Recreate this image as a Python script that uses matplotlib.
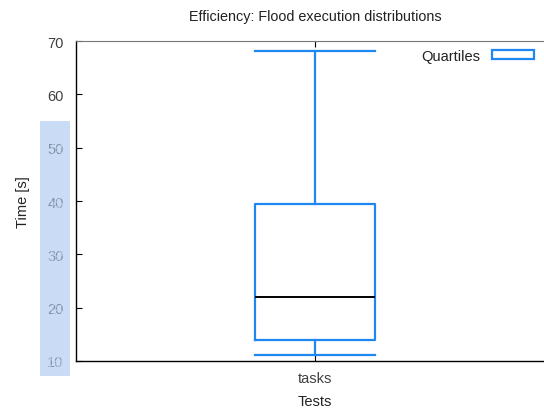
import matplotlib.pyplot as plt
from matplotlib.patches import Patch, Rectangle

# quartile stats for the single test group
test_names = ["tasks"]
whisker_low = [11.1]
q1 = [13.9]
median = [22.0]
q3 = [39.4]
whisker_high = [68.1]

blue = "#1e88f0"
plt.rcParams["font.family"] = ["Liberation Sans", "DejaVu Sans"]
plt.rcParams["font.size"] = 10.5

fig = plt.figure(figsize=(5.44, 4.10), dpi=100)
W, H = 544.0, 410.0
# axes: left 76px, right beyond edge 554px, top 42px, bottom 362px
ax = fig.add_axes([76 / W, 1 - 362 / H, (554 - 76) / W, (362 - 42) / H])

stats = []
for i in range(len(test_names)):
    stats.append({"label": test_names[i], "whislo": whisker_low[i], "q1": q1[i],
                  "med": median[i], "q3": q3[i], "whishi": whisker_high[i]})

ax.bxp(stats, positions=[0], widths=0.5, capwidths=0.5, showfliers=False,
       boxprops=dict(color=blue, linewidth=1.6),
       whiskerprops=dict(color=blue, linewidth=1.6),
       capprops=dict(color=blue, linewidth=1.6),
       medianprops=dict(color="black", linewidth=1.4))

ax.set_xlim(-1, 1)
ax.set_ylim(10, 70)
ax.set_yticks(range(10, 71, 10))
ax.set_xticks([0])
ax.set_xticklabels(test_names)
ax.tick_params(direction="in", length=4, width=0.8, color="black",
               labelcolor="#404040", top=True, pad=7)
ax.tick_params(axis="y", pad=9)

ax.spines["right"].set_visible(False)
ax.spines["top"].set_color("#777777")
for s in ["left", "bottom"]:
    ax.spines[s].set_linewidth(1.0)

ax.set_title("Efficiency: Flood execution distributions", color="#222222",
             pad=15, fontsize=10.4)
ax.set_ylabel("Time [s]", color="#222222", labelpad=12)
ax.set_xlabel("Tests", color="#222222", labelpad=7)

handle = Patch(facecolor="white", edgecolor=blue, linewidth=1.6, label="Quartiles")
fig.legend(handles=[handle], loc="upper right", bbox_to_anchor=(543 / W, 1 - 41 / H),
           frameon=False, markerfirst=False, handlelength=2.9, handleheight=0.55,
           handletextpad=0.8, borderaxespad=0.2, labelcolor="#222222")

# blue selection overlay on the left tick labels
fig.patches.append(Rectangle((40 / W, 1 - 377 / H), 30 / W, 255 / H,
                             transform=fig.transFigure, facecolor="#a9c6ef",
                             edgecolor="#c9dbf5", hatch="xxxx", linewidth=0,
                             alpha=0.6, zorder=5))

fig.savefig("out.png", dpi=100)
